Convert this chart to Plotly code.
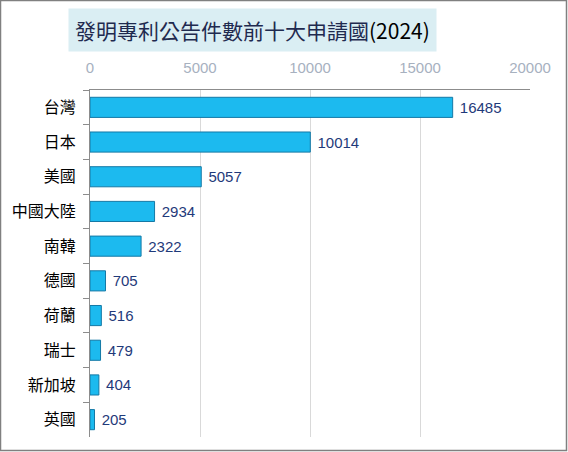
import plotly.graph_objects as go

# 發明專利公告件數前十大申請國 (2024)
countries = ["台灣", "日本", "美國", "中國大陸", "南韓", "德國", "荷蘭", "瑞士", "新加坡", "英國"]
counts = [16485, 10014, 5057, 2934, 2322, 705, 516, 479, 404, 205]
x_ticks = [0, 5000, 10000, 15000, 20000]

W, H = 568, 452
L, R, T, B = 90, 38, 90, 15
pw, ph = W - L - R, H - T - B


def px_x(p):
    # pixel -> paper x
    return (p - L) / pw


def px_y(p):
    # pixel -> paper y
    return (H - B - p) / ph


fig = go.Figure()
fig.add_trace(go.Bar(
    x=counts, y=countries, orientation="h",
    marker=dict(color="#1CBAEF", line=dict(color="#1479A6", width=1)),
    text=[str(c) for c in counts], texttemplate=" %{text}", textposition="outside",
    textfont=dict(family="Liberation Sans, Arial", size=15, color="#1F3A7A"),
    cliponaxis=False,
))

fig.update_layout(
    width=W, height=H,
    margin=dict(l=L, r=R, t=T, b=B, autoexpand=False),
    paper_bgcolor="white", plot_bgcolor="white",
    showlegend=False, bargap=0.42,
    xaxis=dict(
        side="top", range=[0, 20000], tickvals=x_ticks,
        ticktext=[str(v) for v in x_ticks], automargin=False,
        showgrid=True, gridcolor="#D9D9D9", gridwidth=1,
        zeroline=False, showline=True, linecolor="#8C8C8C", mirror=False,
        ticks="", ticklabelstandoff=10,
        tickfont=dict(family="Liberation Sans, Arial", size=15, color="#A7B1BF"),
    ),
    yaxis=dict(
        autorange="reversed", tickson="boundaries", automargin=False,
        ticks="outside", ticklen=6, tickcolor="#8C8C8C",
        showline=True, linecolor="#8C8C8C", showgrid=False,
        ticklabelstandoff=10,
        tickfont=dict(family="Noto Sans CJK TC", size=16, color="black"),
    ),
    annotations=[dict(
        xref="paper", yref="paper", x=px_x(68), y=px_y(8),
        xanchor="left", yanchor="top", showarrow=False,
        text="<span style='color:#1F2A4F'>發明專利公告件數前十大申請國</span>(2024)",
        font=dict(family="Noto Sans CJK TC", size=21, color="black"),
        bgcolor="#DAEEF3", borderpad=6,
    )],
    shapes=[dict(
        type="rect", xref="paper", yref="paper",
        x0=px_x(0.5), x1=px_x(566.5), y0=px_y(450.5), y1=px_y(0.5),
        line=dict(color="#808080", width=1.5), layer="below",
    )],
)

# the page's default body margin would push the chart off the window
fig.write_html("out.html", config={"displayModeBar": False},
               post_script="document.body.style.margin='0';document.body.style.overflow='hidden';")
